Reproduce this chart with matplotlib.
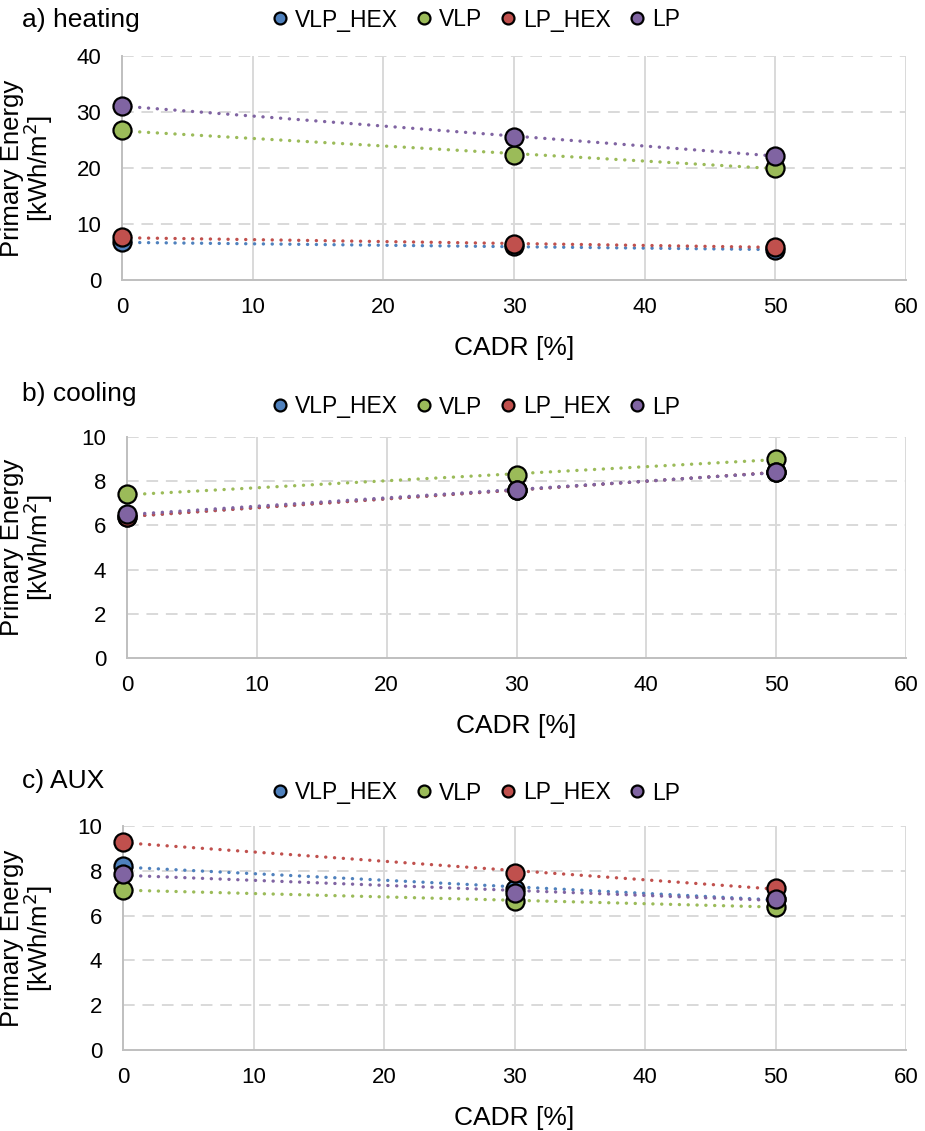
"""
Primary energy vs CADR for heating, cooling and AUX
"""

import matplotlib
matplotlib.use("Agg")
import matplotlib.pyplot as plt
import numpy as np

plt.rcParams['font.family'] = ['Liberation Sans', 'DejaVu Sans']

cadr = [0, 30, 50]
series_names = ["VLP_HEX", "VLP", "LP_HEX", "LP"]
colors = ["#4F81BD", "#9BBB59", "#C0504D", "#8064A2"]

heating = {
    "VLP_HEX": [6.7, 6.0, 5.4],
    "VLP": [26.7, 22.4, 20.0],
    "LP_HEX": [7.6, 6.4, 5.9],
    "LP": [31.1, 25.6, 22.2],
}
cooling = {
    "VLP_HEX": [6.4, 7.6, 8.4],
    "VLP": [7.4, 8.3, 9.0],
    "LP_HEX": [6.4, 7.6, 8.4],
    "LP": [6.5, 7.6, 8.4],
}
aux = {
    "VLP_HEX": [8.2, 7.2, 6.75],
    "VLP": [7.15, 6.65, 6.4],
    "LP_HEX": [9.3, 7.9, 7.25],
    "LP": [7.85, 7.0, 6.75],
}

W, H = 925, 1131
# title, data, ymax, ystep, (left, top, right, bottom) in px, title y, legend y
panels = [
    ("a) heating", heating, 40, 10, (122, 56, 906, 280), 20, 20),
    ("b) cooling", cooling, 10, 2, (127, 437, 906, 658), 394, 407),
    ("c) AUX", aux, 10, 2, (123, 826, 906, 1050), 781, 793),
]

fig = plt.figure(figsize=(W / 100, H / 100), dpi=100)

for title, data, ymax, ystep, box, title_y, leg_y in panels:
    l, t, r, b = box
    aw, ah = r - l, b - t
    ax = fig.add_axes([l / W, 1 - b / H, aw / W, ah / H])
    ax.set_xlim(0, 60)
    ax.set_ylim(0, ymax)
    ax.set_xticks(np.arange(0, 61, 10))
    ax.set_yticks(np.arange(0, ymax + 0.1, ystep))

    for y in np.arange(ystep, ymax + 0.1, ystep):
        ax.axhline(y, color='#D9D9D9', lw=1.4, ls=(0, (6, 4)), zorder=0)
    for x in range(10, 61, 10):
        ax.axvline(x, color='#D9D9D9', lw=1.4, zorder=0)

    for name, c in zip(series_names, colors):
        vals = np.array(data[name])
        k, b0 = np.polyfit(cadr, vals, 1)
        xs = np.array([0, 50])
        ax.plot(xs, k * xs + b0, color=c, lw=2.4, ls=(0, (0.05, 2.6)),
                dash_capstyle='round', zorder=2, clip_on=False)
        ax.plot(cadr, vals, 'o', ms=13, mfc=c, mec='black', mew=1.6,
                zorder=3, clip_on=False, label=name, ls='none')

    for s in ['top', 'right']:
        ax.spines[s].set_visible(False)
    for s in ['left', 'bottom']:
        ax.spines[s].set_color('#BFBFBF')
        ax.spines[s].set_linewidth(1.4)
    ax.tick_params(axis='y', length=0, labelsize=16, pad=15)
    ax.tick_params(axis='x', length=0, labelsize=16, pad=12)
    ax.set_xlabel("CADR [%]", fontsize=19)
    ax.xaxis.set_label_coords(0.5, -56 / ah)
    ax.set_ylabel("Primary Energy\n[kWh/m$^2$]", fontsize=18.5,
                  linespacing=0.92)
    ax.yaxis.set_label_coords((55 - l) / aw, 0.5)

    ax.legend(loc='center', bbox_to_anchor=((476 - l) / aw, 1 + (t - leg_y) / ah),
              ncol=4, frameon=False, fontsize=16.5, markerscale=0.66,
              handletextpad=0.3, columnspacing=0.8, handlelength=0.7)
    fig.text(22 / W, 1 - title_y / H, title, fontsize=19, va='center')

fig.savefig("out.png", dpi=100)
